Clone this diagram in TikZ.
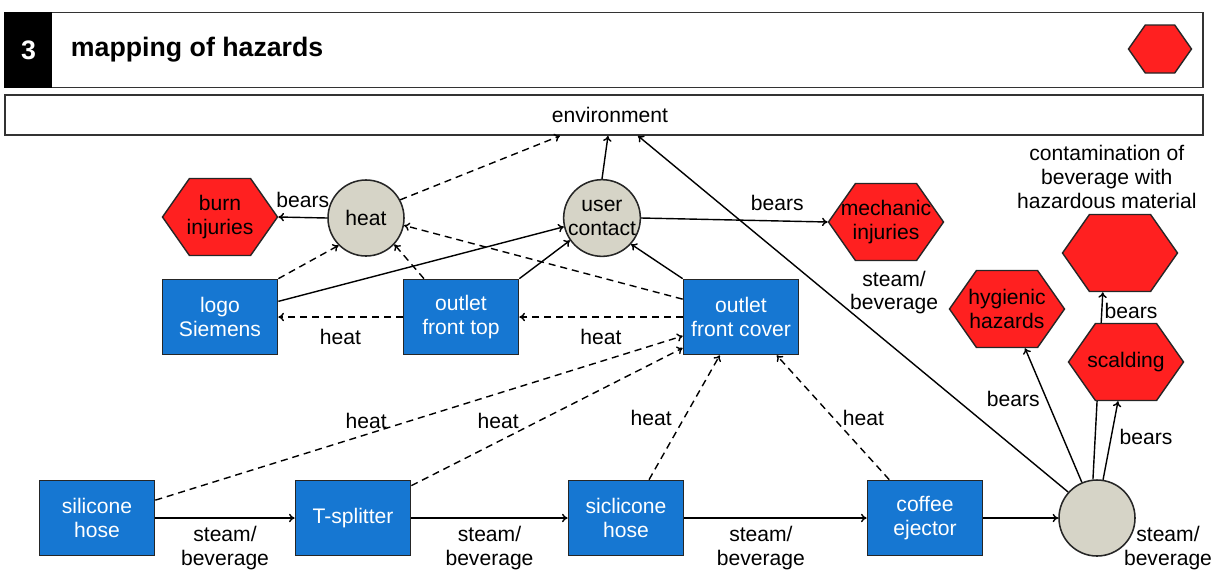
\documentclass[tikz,border=0pt]{standalone}
\usepackage{fontspec}
\setmainfont{Liberation Sans}
\usetikzlibrary{shapes.geometric, shapes.symbols, arrows.meta, positioning, calc, backgrounds}
\definecolor{partblue}{RGB}{22,119,210}
\definecolor{hazred}{RGB}{255,32,32}
\definecolor{stategray}{RGB}{214,212,199}
\tikzset{
    part/.style = {draw=black!85, line width=1.2pt, rectangle, fill=partblue, text=white, minimum width=2.875cm, minimum height=1.875cm, align=center, inner sep=1pt},
    hazard/.style = {draw=black!85, line width=1pt, signal, signal to=east and west, signal pointer angle=110, fill=hazred, minimum width=2.875cm, minimum height=1.925cm, inner xsep=-12pt, inner ysep=1pt, align=center},
    state/.style = {draw=black!85, line width=1.1pt, circle, fill=stategray, minimum size=1.9cm, inner sep=0pt, align=center},
    bar/.style = {draw=black!80, line width=1pt, rectangle, minimum width=29.95cm, fill=white},
    arrow/.style = {-{To[length=4pt, width=6pt]}, line width=1pt},
    darrow/.style = {arrow, dashed, dash pattern=on 5pt off 3.5pt},
    lbl/.style = {inner sep=1.5pt, align=center}
}

\begin{document}
\begin{tikzpicture}[x=0.025cm, y=-0.025cm, font=\fontsize{15}{17}\selectfont]
    \useasboundingbox (0,0) rectangle (1219,575);
    \node[bar, minimum height=1.875cm] (header) at (604,50) {};
    \node[fill=black, minimum width=1.2cm, minimum height=1.875cm, text=white, font=\fontsize{19}{21}\selectfont\bfseries, anchor=west] (num) at (header.west) {3};
    \node[anchor=west, font=\fontsize{19}{21}\selectfont\bfseries] (headline) at (66,50) {mapping of hazards};
    \node[hazard, inner xsep=0pt, minimum width=1.575cm, minimum height=1.2cm] (legend) at (1160,49) {};
    \node[bar, minimum height=1cm, line width=1.2pt] (env) at (604,115) {\hspace*{0.3cm}environment};

    \node[hazard] (burn) at (220,217) {burn\\injuries};
    \node[state] (heat) at (366,218) {heat};
    \node[state] (user) at (602,218) {user\\contact};
    \node[hazard] (mech) at (886,222) {mechanic\\injuries};
    \node[hazard, inner xsep=0pt] (contam) at (1120,253) {};
    \node[lbl, above=2pt of contam, xshift=-0.33cm] (contamtxt) {contamination of\\beverage with\\hazardous material};
    \node[hazard] (hyg) at (1007,309) {hygienic\\hazards};
    \node[hazard] (scald) at (1126,362) {scalding};

    \node[part] (logo) at (220,317) {logo\\Siemens};
    \node[part] (top) at (461,317) {outlet\\front top};
    \node[part] (cover) at (741,317) {outlet\\front cover};

    \node[part] (hose1) at (97,518) {silicone\\hose};
    \node[part] (splitter) at (353,518) {T-splitter};
    \node[part] (hose2) at (626,518) {siclicone\\hose};
    \node[part] (ejector) at (925,518) {coffee\\ejector};
    \node[state] (flow) at (1097,518) {};
    \node[lbl] (flowtxt) at (1168,548) {steam/\\beverage};

    \draw[arrow] (heat.west) -- node[lbl, above=5pt] {bears} (burn.east);
    \draw[darrow] (heat.28) -- ([xshift=-1.1cm]env.south);
    \draw[arrow] (user.north) -- ([xshift=0.1cm]env.south);
    \draw[arrow] (user.east) -- node[lbl, above=5pt, pos=0.73] {bears} (mech.west);
    \draw[darrow] (logo.north east) -- (heat.225);
    \draw[arrow] (logo.15) -- (user.193);
    \draw[darrow] (top.134) -- (heat.317);
    \draw[arrow] (top.north east) -- (user.215);
    \draw[darrow] (cover.163) -- (heat.349);
    \draw[arrow] (cover.north west) -- (user.318);
    \draw[darrow] (top.west) -- node[lbl, below=7pt] {heat} (logo.east);
    \draw[darrow] (cover.west) -- node[lbl, below=7pt] {heat} (top.east);

    \draw[darrow] (hose1.17) -- node[lbl, above=2pt, pos=0.4] {heat} (cover.198);
    \draw[darrow] (splitter.29) -- node[lbl, above=7pt, pos=0.32] {heat} (cover.208);
    \draw[darrow] (hose2.59) -- node[lbl, left=7pt, pos=0.5] {heat} (cover.241);
    \draw[darrow] (ejector.133) -- node[lbl, right=5pt, pos=0.5] {heat} (cover.313);

    \draw[arrow] (hose1) -- node[lbl, below=4pt] {steam/\\beverage} (splitter);
    \draw[arrow] (splitter) -- node[lbl, below=4pt] {steam/\\beverage} (hose2);
    \draw[arrow] (hose2) -- node[lbl, below=4pt, pos=0.42] {steam/\\beverage} (ejector);
    \draw[arrow] (ejector) -- (flow);

    \draw[arrow] (flow.138) -- node[lbl, pos=0.56, right=0.5cm] {steam/\\beverage} ([xshift=0.85cm]env.south);
    \draw[arrow] (flow.113) -- node[lbl, left=3pt, pos=0.62] {bears} ([xshift=0.45cm]hyg.south);
    \begin{scope}[on background layer]
        \draw[arrow] (flow.96) -- node[lbl, right, pos=0.9] {bears} ([xshift=-0.43cm]contam.south);
    \end{scope}
    \draw[arrow] (flow.81) -- node[lbl, right=4pt, pos=0.55] {bears} ([xshift=-0.2cm]scald.south);
\end{tikzpicture}
\end{document}
